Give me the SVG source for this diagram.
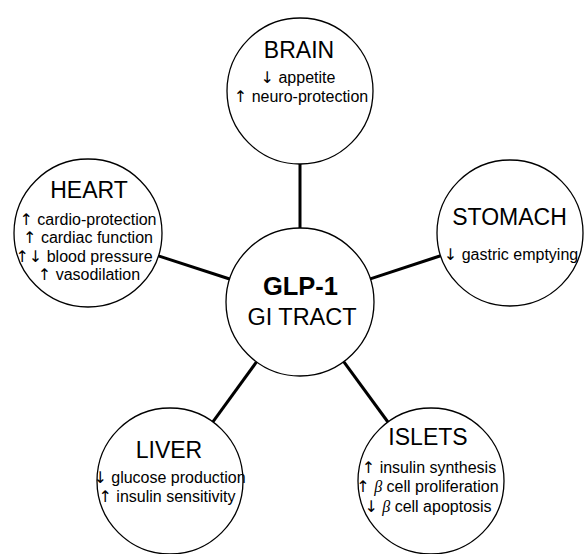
<svg xmlns="http://www.w3.org/2000/svg" width="585" height="554" viewBox="0 0 585 554">
<style>
.node{fill:#fff;stroke:#000;stroke-width:1.3}
.conn line{stroke:#000;stroke-width:3}
text{font-family:"Liberation Sans",Arial,sans-serif;fill:#000;text-anchor:middle}
.t{font-size:23px}
.b{font-size:16px;opacity:0.995}
.a{font-family:"DejaVu Sans",sans-serif;fill:#000}
.beta{font-family:"Liberation Serif","Times New Roman",serif;font-style:italic}
</style>
<rect width="585" height="554" fill="#fff"/>
<g class="conn">
<line x1="300" y1="164" x2="300" y2="228"/>
<line x1="158.4" y1="255.9" x2="229.6" y2="279"/>
<line x1="370.3" y1="278.9" x2="440.6" y2="255.8"/>
<line x1="256.5" y1="361.9" x2="212.9" y2="421.9"/>
<line x1="343.7" y1="361.7" x2="387.9" y2="422"/>
</g>
<g id="brain">
<circle class="node" cx="300" cy="91" r="73"/>
<text class="t" x="299" y="58">BRAIN</text>
<text class="b" x="298" y="83"><tspan class="a">↓</tspan> appetite</text>
<text class="b" x="301" y="102"><tspan class="a">↑</tspan> neuro-protection</text>
</g>
<g id="heart">
<circle class="node" cx="88" cy="233" r="74"/>
<text class="t" x="89" y="198">HEART</text>
<text class="b" x="88" y="225"><tspan class="a">↑</tspan> cardio-protection</text>
<text class="b" x="88" y="243"><tspan class="a">↑</tspan> cardiac function</text>
<text class="b" x="84" y="262"><tspan class="a">↑↓</tspan> blood pressure</text>
<text class="b" x="89" y="280"><tspan class="a">↑</tspan> vasodilation</text>
</g>
<g id="stomach">
<circle class="node" cx="510" cy="233" r="73"/>
<text class="t" x="509.5" y="225">STOMACH</text>
<text class="b" x="511" y="260"><tspan class="a">↓</tspan> gastric emptying</text>
</g>
<g id="glp1">
<circle class="node" cx="300" cy="302" r="74"/>
<text x="300.5" y="295" style="font-size:25.5px;font-weight:bold">GLP-1</text>
<text x="302" y="325" style="font-size:23.5px">GI TRACT</text>
</g>
<g id="liver">
<circle class="node" cx="170" cy="481" r="73"/>
<text class="t" x="169" y="458">LIVER</text>
<text class="b" x="169.5" y="483"><tspan class="a">↓</tspan> glucose production</text>
<text class="b" x="167" y="502"><tspan class="a">↑</tspan> insulin sensitivity</text>
</g>
<g id="islets">
<circle class="node" cx="431" cy="481" r="73"/>
<text class="t" x="428" y="445">ISLETS</text>
<text class="b" x="429" y="473"><tspan class="a">↑</tspan> insulin synthesis</text>
<text class="b" x="427.5" y="492"><tspan class="a">↑</tspan> <tspan class="beta">β</tspan> cell proliferation</text>
<text class="b" x="428" y="512"><tspan class="a">↓</tspan> <tspan class="beta">β</tspan> cell apoptosis</text>
</g>
</svg>
